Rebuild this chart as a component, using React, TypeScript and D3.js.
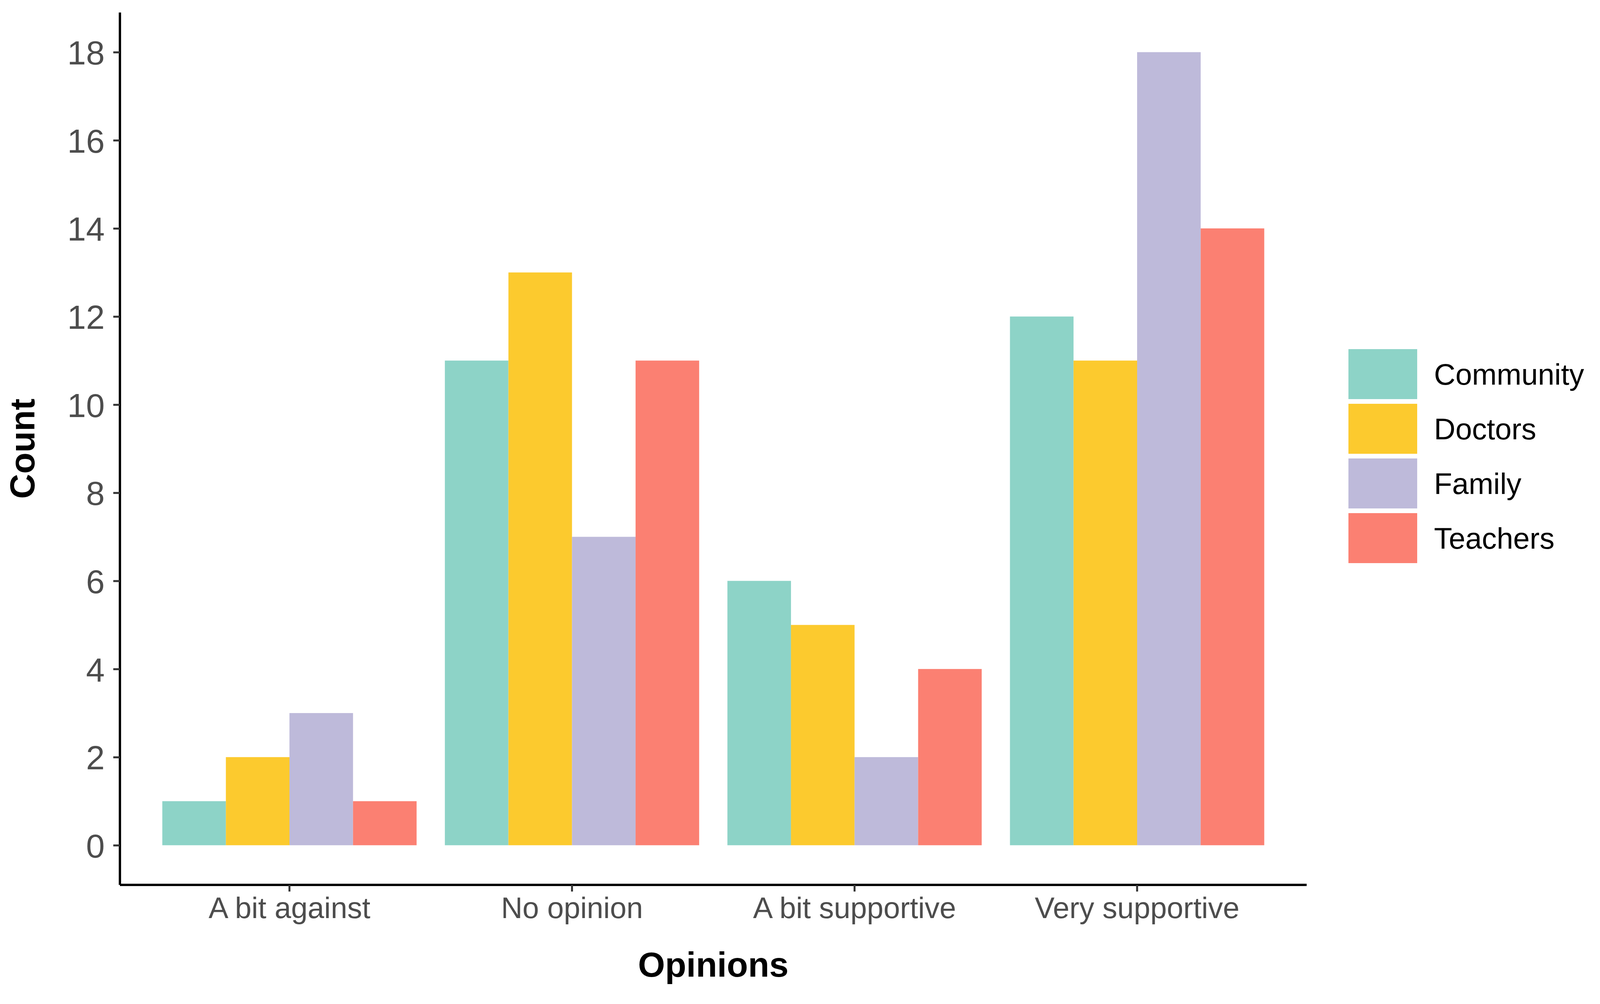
import React, { useEffect, useRef } from "react";
import * as d3 from "d3";

const opinions = ["A bit against", "No opinion", "A bit supportive", "Very supportive"];
const groups = ["Community", "Doctors", "Family", "Teachers"];
const community = [1, 11, 6, 12];
const doctors = [2, 13, 5, 11];
const family = [3, 7, 2, 18];
const teachers = [1, 11, 4, 14];
const yTicks = [0, 2, 4, 6, 8, 10, 12, 14, 16, 18];
const colors = ["#8DD3C7", "#FCCA2E", "#BEBADA", "#FB8072"];

const W = 4109;
const H = 2571;
const FONT = "'Liberation Sans', Arial, Helvetica, sans-serif";

export default function App() {
  const ref: any = useRef();

  useEffect(() => {
    const svg = d3.select(ref.current);
    svg.selectAll("*").remove();

    const series = [community, doctors, family, teachers];
    const rows = opinions.map((o, i) => ({
      opinion: o,
      values: groups.map((g, j) => ({ group: g, value: series[j][i] })),
    }));

    const left = 307;
    const right = 3345;
    const top = 32;
    const bottom = 2266;

    const x0 = d3
      .scaleBand()
      .domain(opinions)
      .range([left, right])
      .paddingInner(0.1)
      .paddingOuter(0.15);
    const x1 = d3.scaleBand().domain(groups).range([0, x0.bandwidth()]);
    const y = d3.scaleLinear().domain([-0.9, 18.9]).range([bottom, top]);
    const color = d3.scaleOrdinal<string>().domain(groups).range(colors);

    // bars
    const g = svg.append("g");
    g.selectAll("g.grp")
      .data(rows)
      .join("g")
      .attr("class", "grp")
      .attr("transform", (d: any) => `translate(${x0(d.opinion)},0)`)
      .selectAll("rect")
      .data((d: any) => d.values)
      .join("rect")
      .attr("x", (d: any) => x1(d.group))
      .attr("width", x1.bandwidth())
      .attr("y", (d: any) => y(d.value))
      .attr("height", (d: any) => y(0) - y(d.value))
      .attr("fill", (d: any) => color(d.group));

    // y axis
    const yAxis = svg
      .append("g")
      .attr("transform", `translate(${left},0)`)
      .call(d3.axisLeft(y).tickValues(yTicks).tickSize(17).tickPadding(22));
    yAxis.select(".domain").attr("stroke", "#000").attr("stroke-width", 6)
      .attr("d", `M0,${bottom}V${top}`);
    yAxis.selectAll(".tick line").attr("stroke", "#333").attr("stroke-width", 5);
    yAxis
      .selectAll(".tick text")
      .attr("fill", "#4D4D4D")
      .attr("font-size", 86)
      .attr("font-family", FONT)
      .attr("dy", "0.36em");

    // x axis
    const xAxis = svg
      .append("g")
      .attr("transform", `translate(0,${bottom})`)
      .call(d3.axisBottom(x0).tickSize(17).tickPadding(14));
    xAxis.select(".domain").attr("stroke", "#000").attr("stroke-width", 6)
      .attr("d", `M${left},0H${right}`);
    xAxis.selectAll(".tick line").attr("stroke", "#333").attr("stroke-width", 5);
    xAxis
      .selectAll(".tick text")
      .attr("fill", "#4D4D4D")
      .attr("font-size", 76)
      .attr("font-family", FONT)
      .attr("dy", "0.71em");

    // axis titles
    svg
      .append("text")
      .attr("x", (left + right) / 2)
      .attr("y", 2501)
      .attr("text-anchor", "middle")
      .attr("font-family", FONT)
      .attr("font-weight", "bold")
      .attr("font-size", 89)
      .attr("fill", "#000")
      .text("Opinions");
    svg
      .append("text")
      .attr("transform", `translate(88,${(top + bottom) / 2}) rotate(-90)`)
      .attr("text-anchor", "middle")
      .attr("font-family", FONT)
      .attr("font-weight", "bold")
      .attr("font-size", 89)
      .attr("fill", "#000")
      .text("Count");

    // legend
    const legend = svg
      .append("g")
      .selectAll("g")
      .data(groups)
      .join("g")
      .attr("transform", (d: any, i: number) => `translate(3452,${958 + i * 140})`);
    legend
      .append("rect")
      .attr("x", 0)
      .attr("y", -64)
      .attr("width", 176)
      .attr("height", 128)
      .attr("fill", (d: any) => color(d));
    legend
      .append("text")
      .attr("x", 219)
      .attr("y", 0)
      .attr("dy", "0.36em")
      .attr("font-family", FONT)
      .attr("font-size", 76)
      .attr("fill", "#000")
      .text((d: any) => d);
  }, []);

  return (
    <svg
      ref={ref}
      width={W}
      height={H}
      style={{ position: "absolute", left: 0, top: 0, background: "#fff" }}
    />
  );
}
